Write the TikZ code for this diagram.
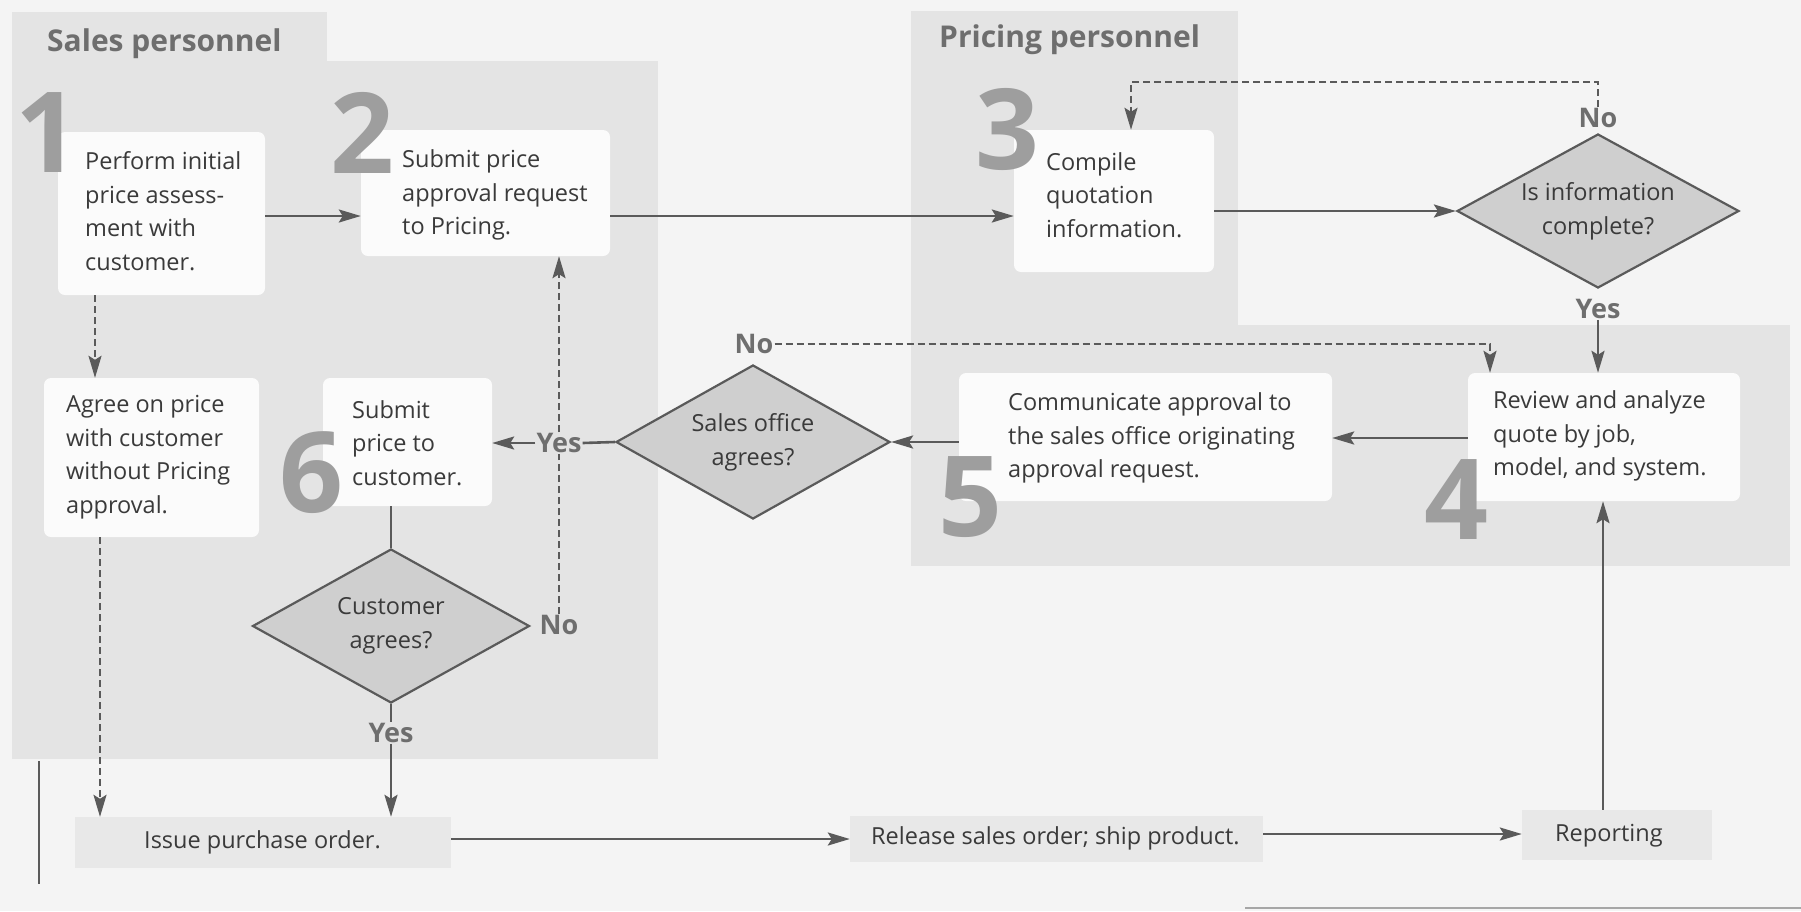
\documentclass[tikz,border=0pt]{standalone}
\usepackage{fontspec}
\setmainfont{Open Sans}
\usetikzlibrary{arrows.meta,shapes.geometric,fit}
\definecolor{pagebg}{HTML}{F4F4F4}
\definecolor{panelc}{HTML}{E4E4E4}
\definecolor{boxc}{HTML}{FBFBFB}
\definecolor{lowboxc}{HTML}{E8E8E8}
\definecolor{diac}{HTML}{CFCFCF}
\definecolor{linec}{HTML}{5A5A5A}
\definecolor{digitc}{HTML}{9E9E9E}
\definecolor{lblc}{HTML}{6E6E6E}
\definecolor{txtc}{HTML}{3A3A3A}
\begin{document}
\begin{tikzpicture}[x=1pt,y=-1pt,
  wbox/.style={fill=boxc, rounded corners=7pt, inner sep=0pt},
  lowb/.style={fill=lowboxc, inner sep=0pt},
  txtn/.style={anchor=west, align=left, inner sep=0pt, text=txtc, font=\fontsize{23.5}{33.5}\selectfont},
  decision/.style={diamond, draw=linec, line width=2.2pt, fill=diac, inner sep=0pt, align=center, text=txtc, font=\fontsize{23.5}{34}\selectfont},
  num/.style={inner sep=0pt, text=digitc, font=\fontsize{112}{112}\selectfont\bfseries},
  yn/.style={inner sep=1pt, text=lblc, font=\fontsize{27}{27}\selectfont\bfseries},
  hdr/.style={inner sep=0pt, anchor=base west, text=lblc, font=\fontsize{30}{30}\selectfont\bfseries},
  arr/.style={draw=linec, line width=2.6pt, -{Stealth[length=22pt,width=13pt,inset=4pt]}},
  pline/.style={draw=linec, line width=2.6pt},
  dsh/.style={draw=linec, line width=2pt, dash pattern=on 7pt off 4pt},
  dsharr/.style={dsh, -{Stealth[length=22pt,width=13pt,inset=4pt]}},
]
\fill[pagebg] (0,0) rectangle (1801,911);
\useasboundingbox (0,0) rectangle (1801,911);

% panels
\fill[panelc] (12,12) rectangle (327,61);
\fill[panelc] (12,61) rectangle (658,759);
\fill[panelc] (911,11) rectangle (1238,566);
\fill[panelc] (1238,325) rectangle (1790,566);

% headers
\node[hdr] (hsales) at (47,51) {Sales personnel};
\node[hdr] (hpricing) at (939,47) {Pricing personnel};

% boxes
\node[wbox, fit={(58,132) (265,295)}] (b1) {};
\node[wbox, fit={(361,130) (610,256)}] (b2) {};
\node[wbox, fit={(1014,130) (1214,272)}] (b3) {};
\node[wbox, fit={(1468,373) (1740,501)}] (b4) {};
\node[wbox, fit={(959,373) (1332,501)}] (b5) {};
\node[wbox, fit={(323,378) (492,506)}] (b6) {};
\node[wbox, fit={(44,378) (259,537)}] (b7) {};
\node[lowb, fit={(75,817) (451,868)}] (po) {};
\node[lowb, fit={(850,816) (1263,862)}] (rel) {};
\node[lowb, fit={(1522,810) (1712,860)}] (rep) {};

% texts
\node[txtn] (t1) at (85,211) {Perform initial\\price assess-\\ment with\\customer.};
\node[txtn] (t2) at (402,195) {Submit price\\approval request\\to Pricing.};
\node[txtn] (t3) at (1046,195) {Compile\\quotation\\information.};
\node[txtn] (t4) at (1493,436) {Review and analyze\\quote by job,\\model, and system.};
\node[txtn] (t5) at (1008,438) {Communicate approval to\\the sales office originating\\approval request.};
\node[txtn] (t6) at (352,443) {Submit\\price to\\customer.};
\node[txtn] (t7) at (66,457) {Agree on price\\with customer\\without Pricing\\approval.};
\node[txtn] (tpo) at (144,842) {Issue purchase order.};
\node[txtn] (trel) at (871,838) {Release sales order; ship product.};
\node[txtn] (trep) at (1555,836) {Reporting};

% decisions
\node[decision, aspect=1.83, minimum width=282pt, minimum height=154pt] (d1) at (1598,211) {Is information\\complete?};
\node[decision, aspect=1.78, minimum width=274pt, minimum height=154pt] (d2) at (753,442) {Sales office\\agrees?};
\node[decision, aspect=1.8, minimum width=277pt, minimum height=154pt] (d3) at (391,626) {Customer\\agrees?};

% yes/no labels
\node[yn] (no1) at (1598,118) {No};
\node[yn] (yes1) at (1598,309) {Yes};
\node[yn] (no2) at (754,344) {No};
\node[yn] (yes2) at (559,443) {Yes};
\node[yn] (no3) at (559,625) {No};
\node[yn] (yes3) at (391,733) {Yes};

% step numbers
\node[num] (n1) at (47,133) {1};
\node[num] (n2) at (362,133) {2};
\node[num] (n3) at (1007,129) {3};
\node[num] (n4) at (1456,500) {4};
\node[num] (n5) at (970,497) {5};
\node[num] (n6) at (311,473) {6};

% helper coordinates
\coordinate (r1) at (0,216);
\coordinate (r4) at (0,438);
\coordinate (r5) at (0,839);
\coordinate (r6) at (0,834);
\coordinate (c3) at (1131,82);
\coordinate (c4) at (1490,344);
\coordinate (k1) at (95,0);
\coordinate (k2) at (100,0);
\coordinate (k3) at (1603,0);

% connectors
\draw[arr] (b1.east |- r1) -- (b2.west |- r1);
\draw[arr] (b2.east |- r1) -- (b3.west |- r1);
\draw[arr] (b3.east |- d1.west) -- (d1.west);
\draw[dsharr] (no1.north) |- (c3) -- (c3 |- b3.north);
\draw[arr] (yes1.south) -- (yes1.south |- b4.north);
\draw[dsharr] (no2.east) -- (c4) -- (c4 |- b4.north);
\draw[arr] (b4.west |- r4) -- (b5.east |- r4);
\draw[arr] (b5.west |- d2.east) -- (d2.east);
\draw[pline] (d2.west) -- (yes2.east);
\draw[arr] (yes2.west) -- (b6.east |- yes2.west);
\draw[dsh] (no3.north) -- (yes2.south);
\draw[dsharr] (yes2.north) -- (yes2.north |- b2.south);
\draw[pline, line width=2pt] (d3.north |- b6.south) -- (d3.north);
\draw[pline, line width=2pt] (d3.south) -- (yes3.north);
\draw[arr] (yes3.south) -- (yes3.south |- po.north);
\draw[dsharr] (b1.south -| k1) -- (b7.north -| k1);
\draw[dsharr] (b7.south -| k2) -- (po.north -| k2);
\draw[arr] (po.east |- r5) -- (rel.west |- r5);
\draw[arr] (rel.east |- r6) -- (rep.west |- r6);
\draw[arr] (rep.north -| k3) -- (b4.south -| k3);

% scan edge lines
\draw[linec, line width=1.5pt] (39,761) -- (39,884);
\draw[black!35, line width=2pt] (1245,908) -- (1801,908);
\end{tikzpicture}
\end{document}
